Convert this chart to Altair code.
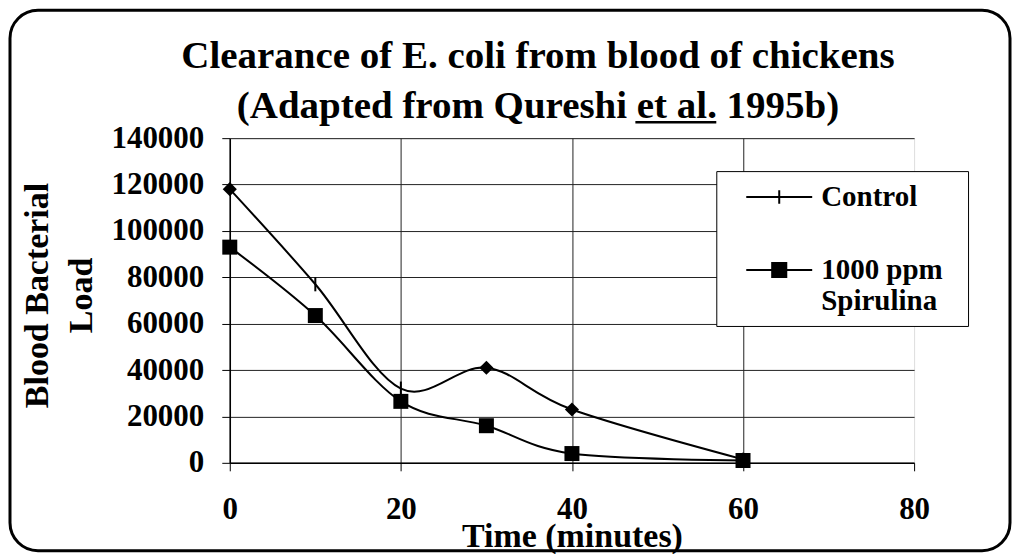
import altair as alt
import pandas as pd

# ---- data ----
time_min = [0, 10, 20, 30, 40, 60]
control = [118000, 77000, 32000, 41000, 23000, 1500]
spirulina = [93000, 63500, 26500, 16000, 4000, 1000]
series_names = ["Control", "1000 ppm Spirulina"]
x_ticks = [0, 20, 40, 60, 80]
y_ticks = [0, 20000, 40000, 60000, 80000, 100000, 120000, 140000]

df = pd.DataFrame({
    "time": time_min * 2,
    "load": control + spirulina,
    "series": [series_names[0]] * len(time_min) + [series_names[1]] * len(time_min),
})

FONT = "Liberation Serif"

x = alt.X(
    "time:Q",
    scale=alt.Scale(domain=[0, 80], nice=False),
    axis=alt.Axis(
        values=x_ticks, title="Time (minutes)",
        labelFont=FONT, labelFontSize=31, labelFontWeight="bold", labelColor="black",
        labelPadding=24, labelFlush=False, tickSize=8, tickColor="black", tickWidth=1,
        domainColor="black", domainWidth=1.5,
        grid=True, gridColor="#222", gridWidth=1,
        gridOpacity={"condition": {"test": "datum.value == 80", "value": 0}, "value": 1},
        titleFont=FONT, titleFontSize=34, titleFontWeight="bold", titleColor="black",
        titleY=84, titleBaseline="alphabetic",
    ),
)
y = alt.Y(
    "load:Q",
    scale=alt.Scale(domain=[0, 140000], nice=False),
    axis=alt.Axis(
        values=y_ticks, format="d", title=["Blood Bacterial", "Load"],
        labelFont=FONT, labelFontSize=31, labelFontWeight="bold", labelColor="black",
        labelPadding=18, labelFlush=False, tickSize=8, tickColor="black", tickWidth=1,
        domainColor="black", domainWidth=1.5,
        grid=True, gridColor="#222", gridWidth=1,
        titleFont=FONT, titleFontSize=34, titleFontWeight="bold", titleColor="black",
        titleAngle=270, titleX=-209, titleY=157, titleAlign="center",
        titleBaseline="top", titleLineHeight=44,
    ),
)

base = alt.Chart(df)

border = alt.Chart(pd.DataFrame({"k": [0]})).mark_rect(
    fill="white", fillOpacity=0, stroke="black", strokeWidth=3, cornerRadius=28
).encode(
    x=alt.value(-220), x2=alt.value(781), y=alt.value(-128), y2=alt.value(413)
)

lines = base.mark_line(interpolate="cardinal", color="black", strokeWidth=2).encode(
    x=x, y=y, detail="series:N"
)

diamonds = base.transform_filter(
    "datum.series == 'Control' && datum.time != 10 && datum.time != 20"
).mark_point(shape="diamond", filled=True, color="black", size=200, opacity=1).encode(x=x, y=y)

ticks = base.transform_filter(
    "datum.series == 'Control' && (datum.time == 10 || datum.time == 20)"
).mark_point(shape="M0,-1V1", filled=False, color="black", strokeWidth=2, size=200, opacity=1).encode(x=x, y=y)

squares = base.transform_filter(
    "datum.series != 'Control'"
).mark_point(shape="square", filled=True, color="black", size=225, opacity=1).encode(x=x, y=y)

# legend glyphs: a line with a tick / a line with a (hatch-filled) square
ctrl_path = "M-2.2,0H2.2M0,-0.45V0.45"
sq = "".join(f"M-0.47,{v:.2f}H0.47" for v in [i * 0.08 - 0.44 for i in range(12)])
spir_path = "M-2.2,0H2.2" + sq + "M-0.47,-0.47H0.47V0.47H-0.47Z"

legend_layer = base.transform_filter("false").mark_point(
    filled=False, color="black", strokeWidth=2, size=900, opacity=1
).encode(
    x=x, y=y,
    shape=alt.Shape(
        "series:N",
        scale=alt.Scale(domain=series_names, range=[ctrl_path, spir_path]),
        legend=alt.Legend(
            title=" ", titleOrient="right", titlePadding=15, titleFontSize=29,
            orient="none", legendX=487, legendY=33,
            labelExpr="datum.label == '1000 ppm Spirulina' ? ['1000 ppm', 'Spirulina'] : datum.label",
            labelFont=FONT, labelFontSize=29, labelFontWeight="bold", labelColor="black",
            labelOffset=26, labelLimit=300,
            symbolSize=900, symbolStrokeWidth=2, symbolFillColor="black",
            symbolStrokeColor="black", symbolOpacity=1, symbolOffset=37,
            strokeColor="black", fillColor="white", padding=10, rowPadding=42,
        ),
    ),
)

underline = alt.Chart(pd.DataFrame({"k": [0]})).mark_rule(color="black", strokeWidth=2.5).encode(
    x=alt.value(406), x2=alt.value(487), y=alt.value(-16)
)

chart = alt.layer(border, lines, diamonds, ticks, squares, legend_layer, underline).properties(
    width=685, height=325, padding=0,
    title=alt.TitleParams(
        text=["Clearance of E. coli from blood of chickens", "(Adapted from Qureshi et al. 1995b)"],
        font=FONT, fontSize=39, fontWeight="bold", color="black", lineHeight=50,
        anchor="middle", dx=-34, offset=-117,
    ),
).configure_view(strokeWidth=0).configure(background="white")

chart.save("out.html", embed_options={"renderer": "svg", "actions": False})
